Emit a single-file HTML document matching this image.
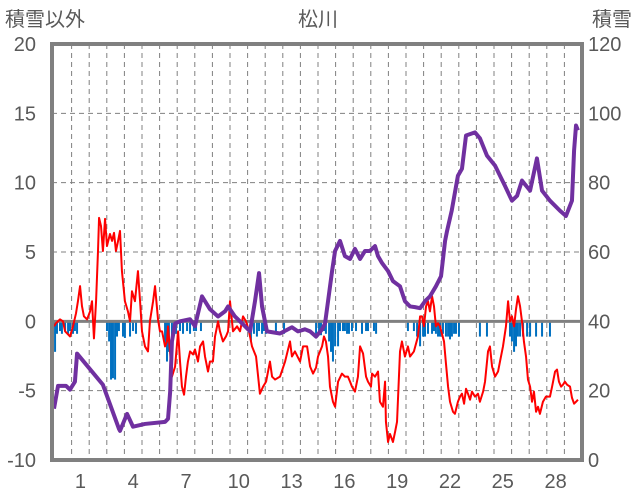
<!DOCTYPE html>
<html><head><meta charset="utf-8"><style>
html,body{margin:0;padding:0;background:#fff;}
svg{display:block;font-family:"Liberation Sans","Noto Sans CJK JP",sans-serif;}
</style></head><body>
<svg id="c" width="636" height="501">
<text x="5" y="26" font-size="20" fill="#595959">積雪以外</text>
<text x="318" y="26" font-size="20" fill="#595959" text-anchor="middle">松川</text>
<text x="632" y="26" font-size="20" fill="#595959" text-anchor="end">積雪</text>
<g id="grid"></g>
<g id="bars"></g>
<g id="lines"></g>
<rect x="52" y="44" width="530" height="416" fill="none" stroke="#808080" stroke-width="4"/>
<g id="axes"></g>
</svg>
<script>
const leftTicks=[20,15,10,5,0,-5,-10];
const rightTicks=[120,100,80,60,40,20,0];
const xTickDays=[1,4,7,10,13,16,19,22,25,28];
const redDays=[0,0.11,0.34,0.51,0.63,0.91,1.08,1.25,1.36,1.48,1.59,1.70,1.88,2.05,2.16,2.27,2.39,2.50,2.56,2.67,2.78,2.90,3.01,3.18,3.30,3.41,3.52,3.64,3.75,3.86,4.03,4.20,4.32,4.43,4.60,4.77,4.89,5.00,5.17,5.34,5.45,5.63,5.74,5.91,6.02,6.14,6.31,6.42,6.48,6.59,6.70,6.88,7.05,7.16,7.27,7.39,7.50,7.61,7.73,7.90,8.01,8.18,8.30,8.47,8.58,8.75,8.86,9.03,9.15,9.32,9.43,9.60,9.77,9.89,10.00,10.17,10.40,10.57,10.74,10.91,11.08,11.25,11.48,11.70,11.88,12.05,12.27,12.39,12.56,12.84,13.13,13.41,13.52,13.69,13.98,14.15,14.38,14.55,14.72,14.89,15.00,15.23,15.34,15.45,15.57,15.68,15.85,15.97,16.14,16.36,16.53,16.70,16.82,16.93,17.10,17.27,17.39,17.56,17.73,17.84,18.01,18.07,18.24,18.41,18.52,18.69,18.81,18.86,18.98,19.09,19.26,19.38,19.49,19.66,19.77,19.94,20.11,20.23,20.45,20.68,20.80,20.91,21.02,21.14,21.25,21.36,21.48,21.59,21.70,21.82,21.93,22.16,22.27,22.39,22.50,22.67,22.78,22.95,23.07,23.18,23.30,23.41,23.52,23.64,23.75,23.92,24.09,24.20,24.38,24.49,24.66,24.77,24.89,25.06,25.23,25.34,25.51,25.68,25.80,25.91,26.02,26.14,26.25,26.36,26.48,26.59,26.70,26.82,26.93,27.05,27.16,27.27,27.39,27.50,27.61,27.78,27.95,28.18,28.30,28.47,28.58,28.69,28.81,28.92,29.03,29.15,29.32,29.43,29.55,29.66,29.77];
const redValues=[-0.36,-0.14,0.14,0,-0.72,-1.09,-0.36,0.58,1.45,2.54,1.09,0.36,0.14,0.72,1.45,-1.23,1.45,5.07,7.46,6.88,5.07,7.39,5.43,6.30,5.80,6.38,5.07,5.80,6.52,3.62,1.45,0.72,0,2.17,1.45,3.62,1.45,-0.72,-1.81,-2.17,0,1.45,2.54,0.14,-0.72,-0.72,-1.81,-1.45,-0.36,-2.17,-3.99,-3.26,-0.72,-2.90,-4.71,-5.29,-3.99,-2.90,-2.17,-2.39,-2.03,-2.90,-1.81,-1.45,-2.54,-3.62,-2.90,-2.90,-1.09,0,-0.72,-1.45,-1.09,-0.72,1.45,-0.72,-0.36,-0.72,0.36,0,-0.72,-1.81,-2.54,-5.22,-4.71,-4.35,-2.90,-3.99,-4.20,-3.99,-2.90,-1.45,-2.54,-2.17,-2.90,-1.81,-1.81,-3.26,-3.77,-3.33,-2.54,-1.81,-1.09,-1.45,-2.54,-4.71,-5.80,-6.16,-4.35,-3.77,-3.99,-3.99,-4.35,-4.71,-5.07,-3.99,-1.81,-2.32,-3.99,-4.35,-4.71,-3.77,-3.99,-3.62,-5.80,-6.16,-4.35,-7.25,-8.70,-8.12,-8.70,-7.97,-7.25,-2.17,-1.45,-2.54,-1.81,-2.54,-2.17,-1.09,0.36,0.36,-0.36,1.09,1.45,0.72,1.81,1.09,-0.36,-0.14,-0.36,-1.45,-3.04,-4.71,-5.80,-6.52,-6.67,-5.80,-5.43,-5.22,-5.94,-4.86,-5.22,-5.65,-5.07,-5.43,-5.22,-5.80,-5.07,-4.35,-2.17,-1.81,-3.26,-3.99,-3.62,-2.90,-1.81,-0.36,1.45,0,0.36,-0.36,0.87,1.81,1.09,0,-1.45,-2.54,-4.20,-4.71,-5.80,-5.07,-6.52,-6.16,-6.67,-5.80,-5.43,-5.43,-4.71,-3.62,-3.48,-4.35,-4.71,-4.57,-4.35,-4.57,-4.71,-5.51,-5.94,-5.80,-5.65];
const snowDays=[0,0.23,0.68,0.91,1.19,1.31,2.78,3.69,3.75,4.15,4.49,5.17,6.31,6.48,6.6,6.7,6.88,7.16,7.73,8.01,8.41,8.86,9.32,9.72,9.89,10.28,10.85,11.14,11.42,11.65,11.82,12.1,12.84,13.52,13.86,14.26,14.55,14.89,15.23,15.4,15.57,15.8,15.97,16.25,16.53,16.82,17.1,17.39,17.67,17.95,18.24,18.41,18.64,18.98,19.26,19.66,19.94,20.23,20.51,20.8,21.08,21.36,21.7,21.99,22.22,22.33,22.6,22.95,23.18,23.41,23.92,24.2,24.6,25.06,25.62,26.02,26.31,26.59,27.05,27.44,27.73,28.18,28.75,29.09,29.43,29.55,29.66,29.77];
const snowValues=[14.8,21.4,21.4,20.3,22.6,30.7,21.7,9,8.4,13.3,9.6,10.4,11,11.9,19.7,34.2,39.4,40,40.6,38.6,47.2,43.5,41.4,42.9,44.3,41.4,38.6,37.1,45.8,53.9,44.3,37.1,36.5,38.3,37.1,37.7,37.1,35.6,37.7,39.4,45.8,54.5,60.3,63.2,58.8,58,60.9,58,60.3,60.3,61.7,58.8,56.8,54.5,51.6,50.1,45.8,44.3,44.1,43.8,45.8,47.2,50.1,53,63.2,66,72,82,84,93.6,94.5,92.8,87.8,84.9,79.1,74.8,76.2,80.6,77.7,87,77.7,74.8,71.9,70.4,74.8,89.3,96.5,95.1];
const barDays=[0.06,0.17,0.34,0.45,0.63,0.8,0.91,1.08,1.19,1.31,3.01,3.13,3.24,3.35,3.47,3.58,3.69,3.92,4.03,4.32,4.49,4.66,6.31,6.42,6.53,6.7,6.93,7.16,7.33,7.56,7.73,7.95,8.07,8.35,11.19,11.36,11.53,11.65,11.82,11.93,12.05,12.61,13.07,14.89,15.06,15.17,15.34,15.45,15.63,15.74,15.85,15.97,16.14,16.25,16.42,16.53,16.65,16.76,16.93,17.16,17.5,17.73,17.84,18.18,18.3,20.11,20.45,20.63,20.8,20.97,21.08,21.25,21.48,21.59,21.7,21.82,21.93,22.1,22.27,22.39,22.5,22.61,22.73,22.84,23.01,24.2,24.6,25.91,26.02,26.14,26.25,26.36,26.48,26.65,26.88,27.05,27.39,27.73,28.18];
const barValues=[-2.2,-0.9,-0.7,-0.9,-0.7,-0.9,-0.7,-0.9,-0.7,-0.9,-0.7,-1.45,-4.2,-4.1,-4.2,-1.1,-0.7,-1.1,-1.2,-1.1,-0.7,-0.9,-1.8,-2.9,-2.2,-1.1,-0.9,-0.7,-0.9,-0.7,-0.9,-0.7,-0.7,-0.7,-1.45,-0.9,-1.1,-0.7,-0.9,-0.7,-0.9,-0.7,-0.9,-0.9,-0.7,-1,-0.7,-0.9,-1.45,-2.2,-2.9,-1.8,-1.8,-0.7,-0.7,-0.7,-0.9,-0.9,-0.7,-0.7,-0.9,-0.7,-0.7,-0.7,-0.9,-0.7,-0.7,-1.1,-1.8,-1.1,-1.1,-0.9,-0.9,-0.7,-0.9,-1.1,-1.1,-0.9,-1.1,-1.1,-1.3,-1.1,-0.9,-0.9,-1.1,-1.1,-1.1,-1.1,-1.45,-2.2,-1.8,-1.1,-1.1,-1.1,-1.1,-1.1,-1.1,-1.1,-1.1];

const NS='http://www.w3.org/2000/svg';
const X0=54,DW=17.6,YT=44,YB=460;
const xs=d=>X0+d*DW;
const yL=v=>YT+(20-v)*(YB-YT)/30;
const yR=v=>YT+(120-v)*(YB-YT)/120;
function mk(tag,attrs,parent){const e=document.createElementNS(NS,tag);for(const k in attrs)e.setAttribute(k,attrs[k]);parent.appendChild(e);return e;}
const grid=document.getElementById('grid'),bars=document.getElementById('bars'),lines=document.getElementById('lines'),axes=document.getElementById('axes');
for(let k=1;k<30;k++){
  const l=mk('line',{x1:xs(k),x2:xs(k),y1:YT,y2:YB,stroke:'#808080','stroke-width':1,'stroke-dasharray':'5,4'},grid);
  
  
}
leftTicks.forEach(v=>{
  if(v!==0&&v!==20&&v!==-10){
    const l=mk('line',{x1:52,x2:582,y1:yL(v),y2:yL(v),stroke:'#808080','stroke-width':1,'stroke-dasharray':'5,4'},grid);
    
    
  }
  const t=mk('text',{x:36,y:yL(v)+7,'font-size':20,fill:'#595959','text-anchor':'end'},axes);
  t.textContent=v;
  
  
});
rightTicks.forEach(v=>{
  const t=mk('text',{x:588,y:yR(v)+7,'font-size':20,fill:'#595959'},axes);
  t.textContent=v;
  
  
});
xTickDays.forEach(d=>{
  const t=mk('text',{x:xs(d+0.5),y:488,'font-size':20,fill:'#595959','text-anchor':'middle'},axes);
  t.textContent=d;
  
  
});
barDays.forEach((d,i)=>{
  const y0=yL(0),y1=yL(barValues[i]);
  const r=mk('rect',{x:xs(d)-1,y:y0,width:2,height:y1-y0,fill:'#0070c0'},bars);
  
  
});
const zl=mk('line',{x1:52,x2:582,y1:yL(0),y2:yL(0),stroke:'#808080','stroke-width':3},lines);


const rp=mk('polyline',{points:redDays.map((d,i)=>xs(d)+','+yL(redValues[i])).join(' '),fill:'none',stroke:'#ff0000','stroke-width':2,'stroke-linejoin':'round'},lines);


const pp=mk('polyline',{points:snowDays.map((d,i)=>xs(d)+','+yR(snowValues[i])).join(' '),fill:'none',stroke:'#7030a0','stroke-width':4,'stroke-linejoin':'round'},lines);


</script>
</body></html>
